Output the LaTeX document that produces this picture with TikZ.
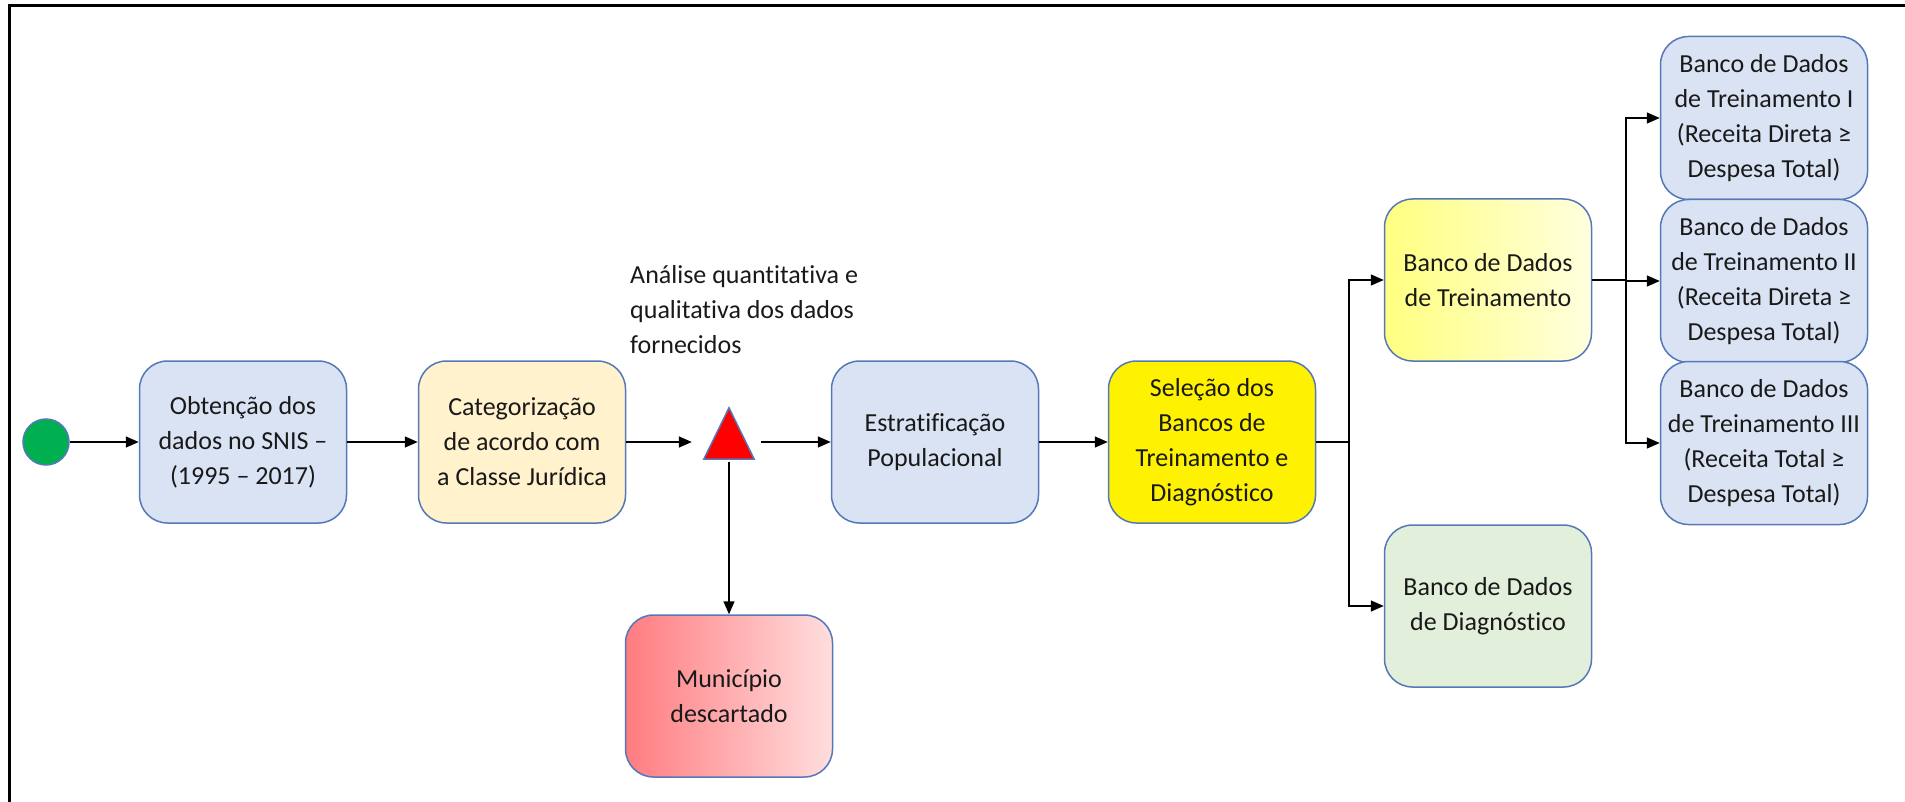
\documentclass[tikz,border=0pt]{standalone}
\usepackage{fontspec}
\setmainfont{Carlito}[Ligatures=CommonOff]
\usetikzlibrary{arrows.meta}

\definecolor{edgeblue}{RGB}{84,120,184}
\definecolor{boxblue}{RGB}{218,227,243}
\definecolor{boxcream}{RGB}{255,242,204}
\definecolor{boxgreen}{RGB}{226,239,218}
\definecolor{startgreen}{RGB}{0,176,80}
\definecolor{trainA}{RGB}{255,255,128}
\definecolor{trainB}{RGB}{255,255,222}
\definecolor{munA}{RGB}{255,124,128}
\definecolor{munB}{RGB}{255,222,222}

\begin{document}
\begin{tikzpicture}[x=1pt, y=-1pt, >={Triangle[length=13pt,width=11pt]},
    box/.style={draw=edgeblue, line width=1.5pt, rounded corners=28pt,
        minimum width=207pt, minimum height=162pt, inner sep=0pt,
        align=center, text=black!90, font=\fontsize{26}{35}\selectfont},
    link/.style={line width=1.5pt}]

    % Frame
    \useasboundingbox (0,0) rectangle (1905,802);
    \draw[line width=3pt] (9,802) -- (9,6) -- (1905,6);

    % Main row, centre line at y = 442
    \def\rowy{442}

    \node[circle, fill=startgreen, draw=edgeblue, line width=1.5pt,
        minimum size=46pt, inner sep=0pt] (start) at (46,\rowy) {};
    \node[box, fill=boxblue] (obt) at (243,\rowy)
        {Obtenção dos\\dados no SNIS –\\(1995 – 2017)};
    \node[box, fill=boxcream] (cat) at (522,\rowy)
        {Categorização\\de acordo com\\a Classe Jurídica};

    % Decision triangle
    \node[minimum width=50pt, minimum height=51pt, inner sep=0pt] (tri) at (729,433.5) {};
    \filldraw[fill=red, draw=edgeblue, line width=1.5pt]
        (tri.south west) -- (tri.north) -- (tri.south east) -- cycle;
    \node[anchor=north west, align=left, inner sep=0pt, text=black!90,
        font=\fontsize{26}{35}\selectfont] (ana) at (630,265)
        {Análise quantitativa e\\qualitativa dos dados\\fornecidos};

    \node[box, fill=boxblue] (est) at (935,\rowy) {Estratificação\\Populacional};
    \node[box, fill=yellow] (sel) at (1212,\rowy)
        {Seleção dos\\Bancos de\\Treinamento e\\Diagnóstico};
    \node[box, left color=munA, right color=munB] (mun) at (729,696)
        {Município\\descartado};

    % Split into training and diagnosis
    \node[box, left color=trainA, right color=trainB] (treino) at (1488,280)
        {Banco de Dados\\de Treinamento};
    \node[box, fill=boxgreen] (diag) at (1488,606)
        {Banco de Dados\\de Diagnóstico};

    % Training sets
    \node[box, fill=boxblue, minimum height=163pt] (trI) at (1764,118)
        {Banco de Dados\\de Treinamento I\\(Receita Direta ≥\\Despesa Total)};
    \node[box, fill=boxblue, minimum height=163pt] (trII) at (1764,281)
        {Banco de Dados\\de Treinamento II\\(Receita Direta ≥\\Despesa Total)};
    \node[box, fill=boxblue, minimum height=163pt] (trIII) at (1764,443)
        {Banco de Dados\\de Treinamento III\\(Receita Total ≥\\Despesa Total)};

    % Connectors
    \draw[link, ->] (start) -- (obt);
    \draw[link, ->] (obt) -- (cat);
    \draw[link, ->, shorten >=12pt] (cat.east) -- (cat.east -| tri.west);
    \draw[link, ->, shorten <=7pt] (tri.east |- est.west) -- (est.west);
    \draw[link, ->, shorten <=3pt] (tri.south) -- (mun.north);
    \draw[link, ->] (est) -- (sel);

    \coordinate (forkA) at (1349,\rowy);
    \draw[link] (sel.east) -- (forkA);
    \draw[link, ->] (forkA) |- (treino.west);
    \draw[link, ->] (forkA) |- (diag.west);

    \coordinate (forkB) at (1626,280);
    \draw[link] (treino.east) -- (forkB);
    \draw[link, ->] (forkB) |- (trI.west);
    \draw[link, ->] (forkB) |- (trII.west);
    \draw[link, ->] (forkB) |- (trIII.west);

\end{tikzpicture}
\end{document}
